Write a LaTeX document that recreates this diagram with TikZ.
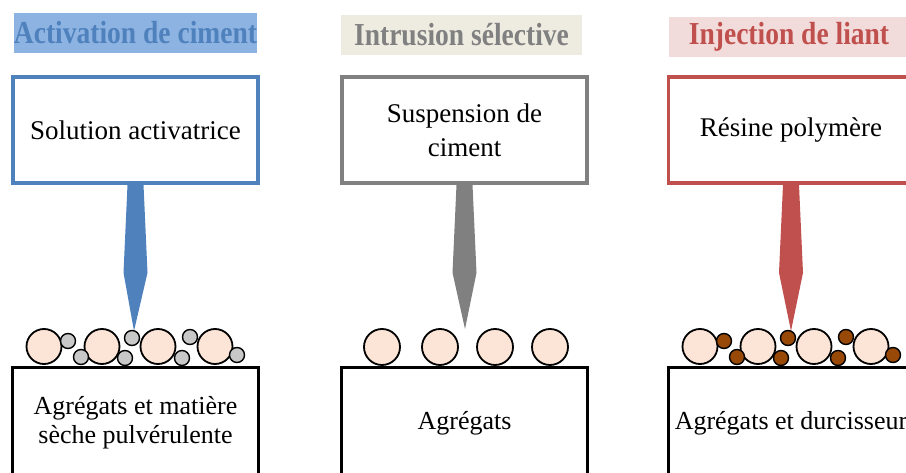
\documentclass[tikz,border=0pt]{standalone}
\usepackage{fontspec}
\setmainfont{Liberation Serif}
\usepackage{xcolor}
\usepackage{graphicx}

\definecolor{actblue}{HTML}{4F81BD}
\definecolor{actbg}{HTML}{8DB3E2}
\definecolor{intgray}{HTML}{808080}
\definecolor{intbg}{HTML}{EEECE1}
\definecolor{injred}{HTML}{C0504D}
\definecolor{injbg}{HTML}{F2DCDB}
\definecolor{grain}{HTML}{FCE4D6}
\definecolor{powder}{HTML}{C8C8C8}
\definecolor{hardener}{HTML}{984807}

\newcommand{\squeeze}[1]{\scalebox{0.86}[1]{#1}}
\newcommand{\pointer}[3]{\fill[#1] ([xshift=-8pt]#2.south) -- ([xshift=8pt]#2.south)
  -- ([xshift=12pt,yshift=-88pt]#2.south) -- (#3)
  -- ([xshift=-12pt,yshift=-88pt]#2.south) -- cycle;}

\begin{document}
\begin{tikzpicture}[x=1pt,y=-1pt]
\tikzset{title/.style={fill=#1,minimum width=241pt,minimum height=40pt,inner sep=0pt,font=\fontsize{32}{36}\selectfont\bfseries}}
\tikzset{liquid/.style={draw=#1,line width=3.5pt,fill=white,minimum width=245pt,minimum height=106pt,inner sep=0pt,align=center,font=\fontsize{27}{34}\selectfont}}
\tikzset{bed/.style={draw=black,line width=3pt,minimum width=246pt,minimum height=110pt,inner sep=0pt,align=center,font=\fontsize{26}{29}\selectfont}}
\tikzset{big grain/.style={circle,draw=black,line width=1.8pt,fill=grain,minimum size=35pt,inner sep=0pt}}
\tikzset{small grain/.style={circle,draw=black,line width=1.4pt,fill=#1,minimum size=15pt,inner sep=0pt}}

\useasboundingbox (0,0) rectangle (906,473);
\clip (0,0) rectangle (906,473);

% titles
\node[title=actbg,text=actblue] (act) at (135.5,33) {\squeeze{Activation de ciment}};
\node[title=intbg,text=intgray] (int) at (461.5,35) {\squeeze{Intrusion sélective}};
\node[title=injbg,text=injred] (inj) at (789,37) {\squeeze{Injection de liant}};

% liquids
\node[liquid=actblue] (sol) at (135.5,130) {Solution activatrice};
\node[liquid=intgray] (sus) at (464.5,130) {Suspension de\\ciment};
\node[liquid=injred] (res) at (791,130) {Résine polymère};

% supports
\node[bed] (agm) at (135.5,423) {Agrégats et matière\\sèche pulvérulente};
\node[bed] (agr) at (464.5,423) {Agrégats};
\node[bed] (agd) at (791,423) {Agrégats et durcisseur};

% pointers
\coordinate (tipa) at (134,331);
\coordinate (tipi) at (465,329);
\coordinate (tipr) at (791,331);
\pointer{actblue}{sol}{tipa}
\pointer{intgray}{sus}{tipi}
\pointer{injred}{res}{tipr}

% grains
\foreach \x [count=\i] in {44,102,158,215} {
  \node[big grain] (ga\i) at (\x,346.5) {};
  \node[big grain] (gr\i) at (\x+656,346.5) {};
}
\foreach \x [count=\i] in {382,440,495,550}
  \node[big grain,minimum size=36pt] (gi\i) at (\x,347) {};
\foreach \x/\y [count=\i] in {68/341,81/357,125/358,132/338,182/358,190/337,237/355} {
  \node[small grain=powder] (pa\i) at (\x,\y) {};
  \node[small grain=hardener] (pr\i) at (\x+656,\y) {};
}

\end{tikzpicture}
\end{document}
